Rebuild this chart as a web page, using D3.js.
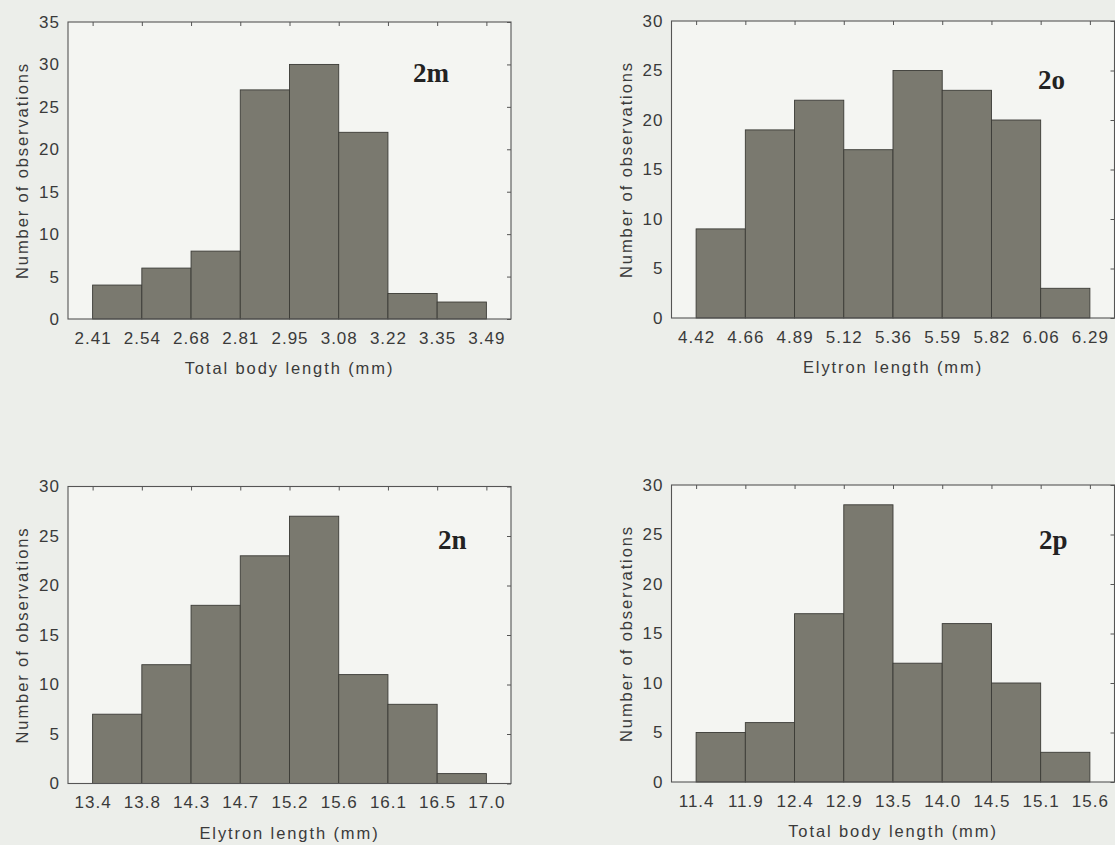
<!DOCTYPE html>
<html>
<head>
<meta charset="utf-8">
<script src="https://cdn.jsdelivr.net/npm/d3@7"></script>
<style>
  body { margin: 0; background: #eceeea; }
  svg { display: block; }
</style>
</head>
<body>
<svg id="svg"></svg>
<script>
// histogram data
const panelNames = ["2m", "2o", "2n", "2p"];

const edges2m = ["2.41", "2.54", "2.68", "2.81", "2.95", "3.08", "3.22", "3.35", "3.49"];
const counts2m = [4, 6, 8, 27, 30, 22, 3, 2];

const edges2o = ["4.42", "4.66", "4.89", "5.12", "5.36", "5.59", "5.82", "6.06", "6.29"];
const counts2o = [9, 19, 22, 17, 25, 23, 20, 3];

const edges2n = ["13.4", "13.8", "14.3", "14.7", "15.2", "15.6", "16.1", "16.5", "17.0"];
const counts2n = [7, 12, 18, 23, 27, 11, 8, 1];

const edges2p = ["11.4", "11.9", "12.4", "12.9", "13.5", "14.0", "14.5", "15.1", "15.6"];
const counts2p = [5, 6, 17, 28, 12, 16, 10, 3];

const yMaxes = [35, 30, 30, 30];
const xTitles = ["Total body length (mm)", "Elytron length (mm)", "Elytron length (mm)", "Total body length (mm)"];
const yTitle = "Number of observations";

function sketch() {
    let svg = d3.select("#svg");
    let width = 1115;
    let height = 845;

    svg.attr("width", width)
	.attr("height", height);

    let plotW = 443;
    let plotH = 297;
    let barFill = "#7a796f";
    let barStroke = "#3b3b36";
    let frameColor = "#555";
    let textColor = "#3a3a3a";
    let font = "'Liberation Sans', Arial, sans-serif";

    // where each panel box sits on the page, and where its tag goes
    let layout = [
	{ left: 68, top: 22, tagX: 413, tagY: 60 },
	{ left: 671.5, top: 21, tagX: 1038, tagY: 68 },
	{ left: 68, top: 486.5, tagX: 438, tagY: 62 },
	{ left: 671.5, top: 485, tagX: 1039, tagY: 64 }
    ];

    let edgeSets = [edges2m, edges2o, edges2n, edges2p];
    let countSets = [counts2m, counts2o, counts2n, counts2p];

    panelNames.forEach(function(name, p) {
	let pos = layout[p];
	let edges = edgeSets[p];
	let counts = countSets[p];

	let g = svg.append("g")
	    .attr("transform", "translate(" + pos.left + "," + pos.top + ")");

	let x = d3.scalePoint()
	    .domain(edges)
	    .range([0, plotW])
	    .padding(0.5);

	let y = d3.scaleLinear()
	    .domain([0, yMaxes[p]])
	    .range([plotH, 0]);

	g.append("rect")
	    .attr("width", plotW)
	    .attr("height", plotH)
	    .attr("fill", "#f4f5f2");

	// bars span from one bin edge to the next
	let bins = counts.map((c, i) => ({ x0: edges[i], x1: edges[i + 1], n: c }));

	g.selectAll("rect.bar")
	    .data(bins)
	    .enter()
	    .append("rect")
	    .attr("class", "bar")
	    .attr("x", (d) => x(d.x0))
	    .attr("width", (d) => x(d.x1) - x(d.x0))
	    .attr("y", (d) => y(d.n))
	    .attr("height", (d) => y(0) - y(d.n))
	    .attr("fill", barFill)
	    .attr("stroke", barStroke)
	    .attr("stroke-width", 0.9);

	g.append("rect")
	    .attr("width", plotW)
	    .attr("height", plotH)
	    .attr("fill", "none")
	    .attr("stroke", frameColor)
	    .attr("stroke-width", 1.1);

	// small inward ticks on top and right
	let topAxis = g.append("g")
	    .call(d3.axisTop(x).tickSize(-4).tickFormat(""));
	let rightAxis = g.append("g")
	    .attr("transform", "translate(" + plotW + ",0)")
	    .call(d3.axisRight(y).ticks(yMaxes[p] / 5).tickSize(-4).tickFormat(""));
	[topAxis, rightAxis].forEach(function(a) {
	    a.select(".domain").remove();
	    a.selectAll("line").attr("stroke", frameColor);
	});

	let leftAxis = g.append("g")
	    .call(d3.axisLeft(y).ticks(yMaxes[p] / 5).tickSize(0).tickPadding(8));
	let bottomAxis = g.append("g")
	    .attr("transform", "translate(0," + plotH + ")")
	    .call(d3.axisBottom(x).tickSize(0).tickPadding(12.5));

	[leftAxis, bottomAxis].forEach(function(a) {
	    a.select(".domain").remove();
	    a.selectAll("text")
		.attr("fill", textColor)
		.style("font-family", font)
		.style("font-size", "17px")
		.style("letter-spacing", "1px");
	});

	g.append("text")
	    .attr("x", plotW / 2)
	    .attr("y", plotH + 55)
	    .attr("text-anchor", "middle")
	    .attr("fill", textColor)
	    .style("font-family", font)
	    .style("font-size", "16.5px")
	    .style("letter-spacing", "1.9px")
	    .text(xTitles[p]);

	g.append("text")
	    .attr("transform", "translate(-40," + (plotH / 2) + ") rotate(-90)")
	    .attr("text-anchor", "middle")
	    .attr("fill", textColor)
	    .style("font-family", font)
	    .style("font-size", "16.5px")
	    .style("letter-spacing", "1.9px")
	    .text(yTitle);

	svg.append("text")
	    .attr("x", pos.tagX)
	    .attr("y", pos.top + pos.tagY)
	    .attr("fill", "#222")
	    .style("font-family", "'Liberation Serif', 'Times New Roman', serif")
	    .style("font-weight", "bold")
	    .style("font-size", "27px")
	    .text(name);
    });
}

sketch();
</script>
</body>
</html>
